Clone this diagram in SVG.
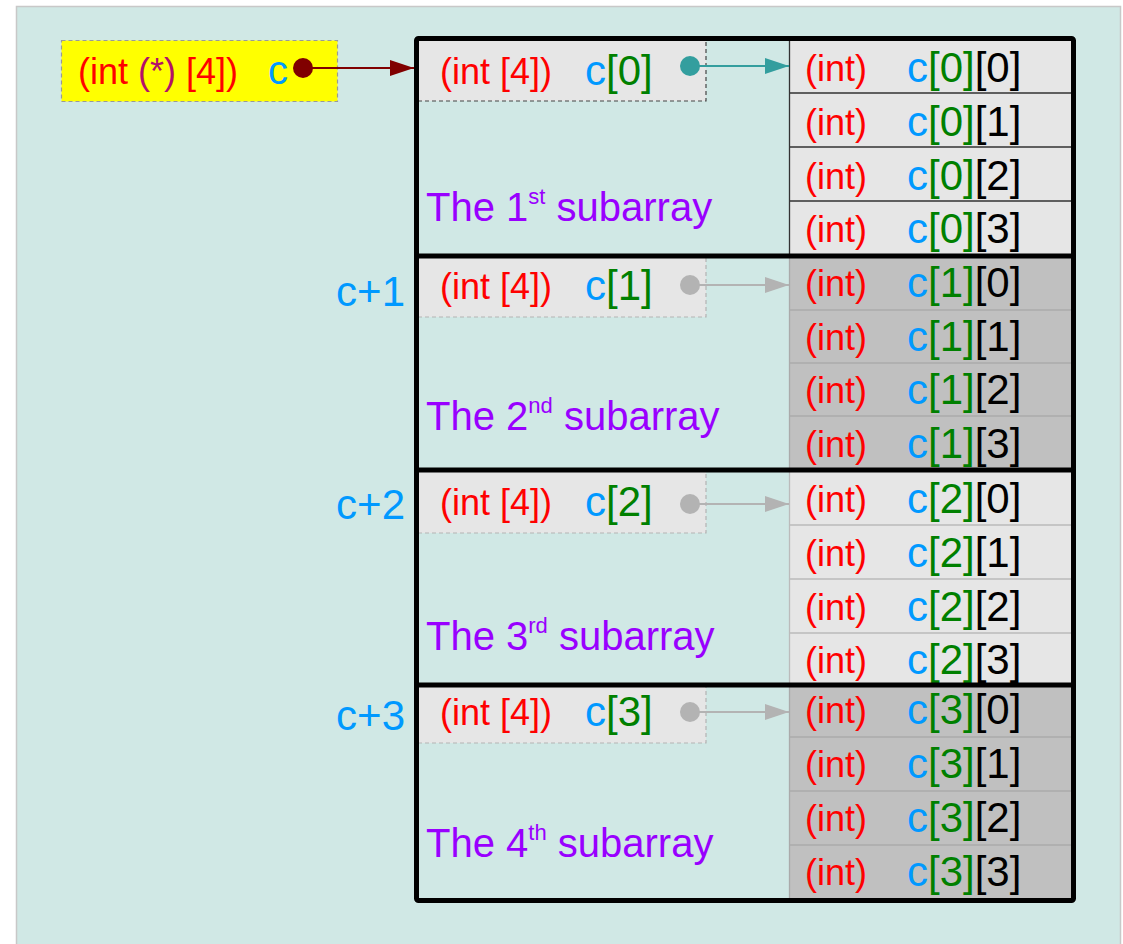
<svg xmlns="http://www.w3.org/2000/svg" width="1123" height="944" viewBox="0 0 1123 944">
<style>
text{font-family:"Liberation Sans",Arial,sans-serif}
.t36{font-size:36px}
.t40{font-size:40px}
.t42{font-size:42px}
.r{fill:#ff0000}
.b{fill:#0099ff}
.g{fill:#008000}
.k{fill:#000000}
.p{fill:#9900ff}
.hdr{fill:#e6e6e6}
.light{fill:#e6e6e6}
.dark{fill:#c0c0c0}
</style>
<defs>
<marker id="ahRed" viewBox="0 0 24 16" refX="24" refY="8" markerWidth="24" markerHeight="16" markerUnits="userSpaceOnUse" orient="auto"><path d="M0,0 L24,8 L0,16 Z" fill="#800000"/></marker>
<marker id="ahTeal" viewBox="0 0 24 16" refX="24" refY="8" markerWidth="24" markerHeight="16" markerUnits="userSpaceOnUse" orient="auto"><path d="M0,0 L24,8 L0,16 Z" fill="#339e9e"/></marker>
<marker id="ahGray" viewBox="0 0 24 16" refX="24" refY="8" markerWidth="24" markerHeight="16" markerUnits="userSpaceOnUse" orient="auto"><path d="M0,0 L24,8 L0,16 Z" fill="#b3b3b3"/></marker>
</defs>
<rect x="0" y="0" width="1123" height="944" fill="#ffffff"/>
<rect x="16.5" y="6.5" width="1104" height="945" fill="#d0e8e5" stroke="#c8c8c8" stroke-width="1.5"/>

<g id="pointer">
<rect x="61.5" y="40.5" width="276" height="61" fill="#ffff00" stroke="#999999" stroke-width="1.2" stroke-dasharray="4,3"/>
<text x="78" y="84" class="t36"><tspan class="r">(int </tspan><tspan fill="#b3106a">(*)</tspan><tspan class="r"> [4])</tspan></text>
<text x="268" y="84" class="t40 b">c</text>
</g>

<g id="section0">
<rect x="418" y="40" width="288" height="61" class="hdr"/>
<path d="M418,101 H706 V40" fill="none" stroke="#444444" stroke-width="1.2" stroke-dasharray="4,3"/>
<text x="440" y="84" class="t36 r">(int [4])</text>
<text x="585" y="85" class="t42"><tspan class="b">c</tspan><tspan class="g">[0]</tspan></text>
<rect x="789" y="40" width="283" height="215" class="light"/>
<path d="M789.5,40 V255 M789,93 H1072 M789,147 H1072 M789,201 H1072" stroke="#333333" stroke-width="1.3" fill="none"/>
<text x="805" y="81" class="t36 r">(int)</text>
<text x="907" y="82" class="t42"><tspan class="b">c</tspan><tspan class="g">[0]</tspan><tspan class="k">[0]</tspan></text>
<text x="805" y="135" class="t36 r">(int)</text>
<text x="907" y="136" class="t42"><tspan class="b">c</tspan><tspan class="g">[0]</tspan><tspan class="k">[1]</tspan></text>
<text x="805" y="189" class="t36 r">(int)</text>
<text x="907" y="190" class="t42"><tspan class="b">c</tspan><tspan class="g">[0]</tspan><tspan class="k">[2]</tspan></text>
<text x="805" y="242" class="t36 r">(int)</text>
<text x="907" y="243" class="t42"><tspan class="b">c</tspan><tspan class="g">[0]</tspan><tspan class="k">[3]</tspan></text>
<text x="426" y="221" class="t40 p">The 1<tspan font-size="22" dy="-17">st</tspan><tspan dy="17"> subarray</tspan></text>
</g>

<g id="section1">
<rect x="418" y="258" width="288" height="59" class="hdr"/>
<path d="M418,317 H706 V258" fill="none" stroke="#b3b3b3" stroke-width="1.2" stroke-dasharray="4,3"/>
<text x="440" y="299" class="t36 r">(int [4])</text>
<text x="585" y="300" class="t42"><tspan class="b">c</tspan><tspan class="g">[1]</tspan></text>
<rect x="789" y="258" width="283" height="211" class="dark"/>
<path d="M789.5,258 V469 M789,310 H1072 M789,363 H1072 M789,416 H1072" stroke="#aaaaaa" stroke-width="1.3" fill="none"/>
<text x="805" y="296" class="t36 r">(int)</text>
<text x="907" y="297" class="t42"><tspan class="b">c</tspan><tspan class="g">[1]</tspan><tspan class="k">[0]</tspan></text>
<text x="805" y="350" class="t36 r">(int)</text>
<text x="907" y="351" class="t42"><tspan class="b">c</tspan><tspan class="g">[1]</tspan><tspan class="k">[1]</tspan></text>
<text x="805" y="403" class="t36 r">(int)</text>
<text x="907" y="404" class="t42"><tspan class="b">c</tspan><tspan class="g">[1]</tspan><tspan class="k">[2]</tspan></text>
<text x="805" y="457" class="t36 r">(int)</text>
<text x="907" y="458" class="t42"><tspan class="b">c</tspan><tspan class="g">[1]</tspan><tspan class="k">[3]</tspan></text>
<text x="426" y="430" class="t40 p">The 2<tspan font-size="22" dy="-17">nd</tspan><tspan dy="17"> subarray</tspan></text>
<text x="405" y="306" class="t42 b" text-anchor="end">c+1</text>
</g>

<g id="section2">
<rect x="418" y="472" width="288" height="61" class="hdr"/>
<path d="M418,533 H706 V472" fill="none" stroke="#b3b3b3" stroke-width="1.2" stroke-dasharray="4,3"/>
<text x="440" y="515" class="t36 r">(int [4])</text>
<text x="585" y="516" class="t42"><tspan class="b">c</tspan><tspan class="g">[2]</tspan></text>
<rect x="789" y="472" width="283" height="211" class="light"/>
<path d="M789.5,472 V683 M789,525 H1072 M789,579 H1072 M789,633 H1072" stroke="#bbbbbb" stroke-width="1.3" fill="none"/>
<text x="805" y="512" class="t36 r">(int)</text>
<text x="907" y="513" class="t42"><tspan class="b">c</tspan><tspan class="g">[2]</tspan><tspan class="k">[0]</tspan></text>
<text x="805" y="566" class="t36 r">(int)</text>
<text x="907" y="567" class="t42"><tspan class="b">c</tspan><tspan class="g">[2]</tspan><tspan class="k">[1]</tspan></text>
<text x="805" y="620" class="t36 r">(int)</text>
<text x="907" y="621" class="t42"><tspan class="b">c</tspan><tspan class="g">[2]</tspan><tspan class="k">[2]</tspan></text>
<text x="805" y="673" class="t36 r">(int)</text>
<text x="907" y="674" class="t42"><tspan class="b">c</tspan><tspan class="g">[2]</tspan><tspan class="k">[3]</tspan></text>
<text x="426" y="650" class="t40 p">The 3<tspan font-size="22" dy="-17">rd</tspan><tspan dy="17"> subarray</tspan></text>
<text x="405" y="519" class="t42 b" text-anchor="end">c+2</text>
</g>

<g id="section3">
<rect x="418" y="687" width="288" height="56" class="hdr"/>
<path d="M418,743 H706 V687" fill="none" stroke="#b3b3b3" stroke-width="1.2" stroke-dasharray="4,3"/>
<text x="440" y="725" class="t36 r">(int [4])</text>
<text x="585" y="726" class="t42"><tspan class="b">c</tspan><tspan class="g">[3]</tspan></text>
<rect x="789" y="687" width="283" height="212" class="dark"/>
<path d="M789.5,687 V899 M789,737 H1072 M789,791 H1072 M789,845 H1072" stroke="#aaaaaa" stroke-width="1.3" fill="none"/>
<text x="805" y="723" class="t36 r">(int)</text>
<text x="907" y="724" class="t42"><tspan class="b">c</tspan><tspan class="g">[3]</tspan><tspan class="k">[0]</tspan></text>
<text x="805" y="777" class="t36 r">(int)</text>
<text x="907" y="778" class="t42"><tspan class="b">c</tspan><tspan class="g">[3]</tspan><tspan class="k">[1]</tspan></text>
<text x="805" y="831" class="t36 r">(int)</text>
<text x="907" y="832" class="t42"><tspan class="b">c</tspan><tspan class="g">[3]</tspan><tspan class="k">[2]</tspan></text>
<text x="805" y="885" class="t36 r">(int)</text>
<text x="907" y="886" class="t42"><tspan class="b">c</tspan><tspan class="g">[3]</tspan><tspan class="k">[3]</tspan></text>
<text x="426" y="857" class="t40 p">The 4<tspan font-size="22" dy="-17">th</tspan><tspan dy="17"> subarray</tspan></text>
<text x="405" y="730" class="t42 b" text-anchor="end">c+3</text>
</g>

<g id="frame">
<rect x="416.5" y="38.5" width="657" height="862" fill="none" stroke="#000000" stroke-width="5" rx="2"/>
<path d="M416,256 H1074 M416,470 H1074 M416,685 H1074" stroke="#000000" stroke-width="5"/>
</g>

<g id="connectors">
<line x1="303" y1="68" x2="414" y2="68" stroke="#800000" stroke-width="2" marker-end="url(#ahRed)"/>
<circle cx="303" cy="68" r="10" fill="#800000"/>
<line x1="690" y1="66" x2="789" y2="66" stroke="#339e9e" stroke-width="2" marker-end="url(#ahTeal)"/>
<circle cx="690" cy="66" r="10" fill="#339e9e"/>
<line x1="690" y1="285" x2="789" y2="285" stroke="#b3b3b3" stroke-width="2" marker-end="url(#ahGray)"/>
<circle cx="690" cy="285" r="10" fill="#b3b3b3"/>
<line x1="690" y1="504" x2="789" y2="504" stroke="#b3b3b3" stroke-width="2" marker-end="url(#ahGray)"/>
<circle cx="690" cy="504" r="10" fill="#b3b3b3"/>
<line x1="690" y1="712" x2="789" y2="712" stroke="#b3b3b3" stroke-width="2" marker-end="url(#ahGray)"/>
<circle cx="690" cy="712" r="10" fill="#b3b3b3"/>
</g>
</svg>
